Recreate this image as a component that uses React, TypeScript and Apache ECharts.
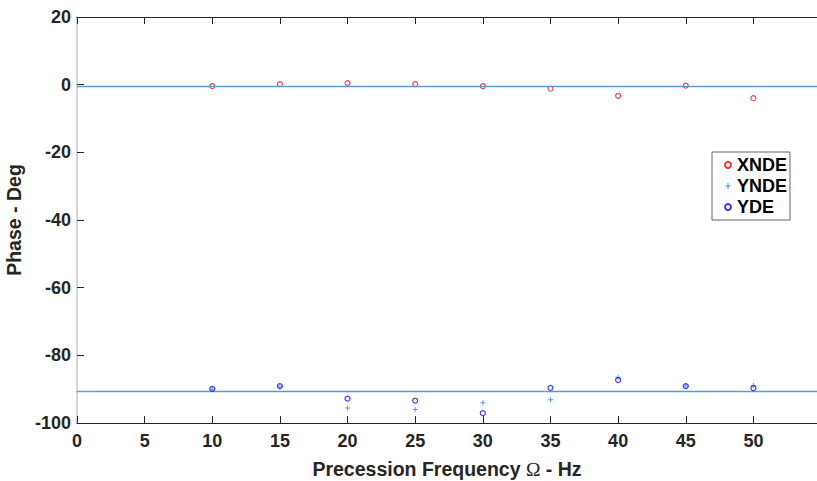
import React, { useEffect, useRef } from "react";
import * as echarts from "echarts";

const frequencies = [10, 15, 20, 25, 30, 35, 40, 45, 50];
const xndePhase = [-0.44, 0.15, 0.44, 0.15, -0.44, -1.2, -3.3, -0.3, -4.0];
const yndePhase = [-90.0, -89.3, -95.6, -96.0, -94.0, -93.1, -86.5, -89.1, -88.9];
const ydePhase = [-89.9, -89.1, -92.8, -93.4, -97.1, -89.6, -87.3, -89.1, -89.7];
const referenceLevels = [-0.5, -90.5];
const xTicks = { min: 0, max: 54.7, interval: 5 };
const yTicks = { min: -100, max: 20, interval: 20 };

const FONT = "'Liberation Sans', Arial, Helvetica, sans-serif";
const PLUS = "path://M2,0H3V2H5V3H3V5H2V3H0V2H2Z";

export default function App() {
  const ref = useRef<HTMLDivElement>(null);
  useEffect(() => {
    if (!ref.current) return;
    const chart = echarts.init(ref.current, undefined, { renderer: "svg" });
    const pts = (ys: number[]) => frequencies.map((f, i) => [f, ys[i]]);
    const titleStyle = { fontFamily: FONT, fontWeight: "bold", fontSize: 19.5, color: "#262626" };
    chart.setOption({
      animation: false,
      backgroundColor: "#ffffff",
      textStyle: { fontFamily: FONT },
      grid: { left: 77, right: 0, top: 17, bottom: 58, containLabel: false, outerBoundsMode: "none" },
      legend: {
        orient: "vertical",
        left: 712,
        top: 152,
        padding: [4, 3, 4, 12],
        itemGap: 3,
        itemWidth: 6,
        itemHeight: 6,
        borderColor: "#666",
        borderWidth: 1,
        backgroundColor: "#fff",
        textStyle: { fontFamily: FONT, fontWeight: "bold", fontSize: 18, color: "#000", padding: [0, 0, 0, 1] },
        data: ["XNDE", "YNDE", "YDE"],
      },
      xAxis: [
        {
          type: "value",
          position: "bottom",
          min: xTicks.min,
          max: xTicks.max,
          interval: xTicks.interval,
          name: "Precession Frequency {o|Ω} - Hz",
          nameLocation: "middle",
          nameGap: 36,
          nameTextStyle: {
            ...titleStyle,
            rich: {
              o: { fontFamily: "'Liberation Serif', 'DejaVu Serif', serif", fontWeight: "normal", fontSize: 19.5, color: "#262626" },
            },
          },
          axisLine: { onZero: false, lineStyle: { color: "#262626", width: 1 } },
          axisTick: { inside: true, length: 7, lineStyle: { color: "#262626" } },
          axisLabel: {
            formatter: (v: number) => (Math.abs(v % 5) < 1e-9 ? String(v) : ""),
            fontFamily: FONT,
            fontWeight: "bold",
            fontSize: 18,
            color: "#262626",
            margin: 9,
            showMaxLabel: false,
          },
          splitLine: { show: false },
        },
        {
          type: "value",
          position: "top",
          min: xTicks.min,
          max: xTicks.max,
          interval: xTicks.interval,
          axisLine: { onZero: false, lineStyle: { color: "#262626", width: 1 } },
          axisTick: { inside: true, length: 7, lineStyle: { color: "#262626" } },
          axisLabel: { show: false },
          splitLine: { show: false },
        },
      ],
      yAxis: {
        type: "value",
        min: yTicks.min,
        max: yTicks.max,
        interval: yTicks.interval,
        name: "Phase - Deg",
        nameLocation: "middle",
        nameGap: 50,
        nameTextStyle: titleStyle,
        axisLine: { onZero: false, lineStyle: { color: "#d4d4d4", width: 2 } },
        axisTick: { inside: true, length: 7, lineStyle: { color: "#262626" } },
        axisLabel: { fontFamily: FONT, fontWeight: "bold", fontSize: 18, color: "#262626", margin: 6 },
        splitLine: { show: false },
      },
      series: [
        {
          name: "XNDE",
          type: "scatter",
          symbol: "circle",
          symbolSize: 5,
          itemStyle: { color: "rgba(255,255,255,0)", borderColor: "#ff0000", borderWidth: 1.1 },
          data: pts(xndePhase),
          z: 3,
          markLine: {
            silent: true,
            symbol: "none",
            label: { show: false },
            lineStyle: { color: "#5b9bd5", width: 1.3, type: "solid" },
            data: referenceLevels.map((v) => ({ yAxis: v })),
          },
        },
        {
          name: "YNDE",
          type: "scatter",
          symbol: PLUS,
          symbolSize: 5,
          itemStyle: { color: "#2387dc" },
          data: pts(yndePhase),
          z: 4,
        },
        {
          name: "YDE",
          type: "scatter",
          symbol: "circle",
          symbolSize: 5,
          itemStyle: { color: "rgba(255,255,255,0)", borderColor: "#0a0aff", borderWidth: 1.2 },
          data: pts(ydePhase),
          z: 5,
        },
      ],
    });
    return () => chart.dispose();
  }, []);
  return (
    <div
      ref={ref}
      style={{ position: "absolute", left: 0, top: 0, width: 817, height: 481, background: "#fff" }}
    />
  );
}
